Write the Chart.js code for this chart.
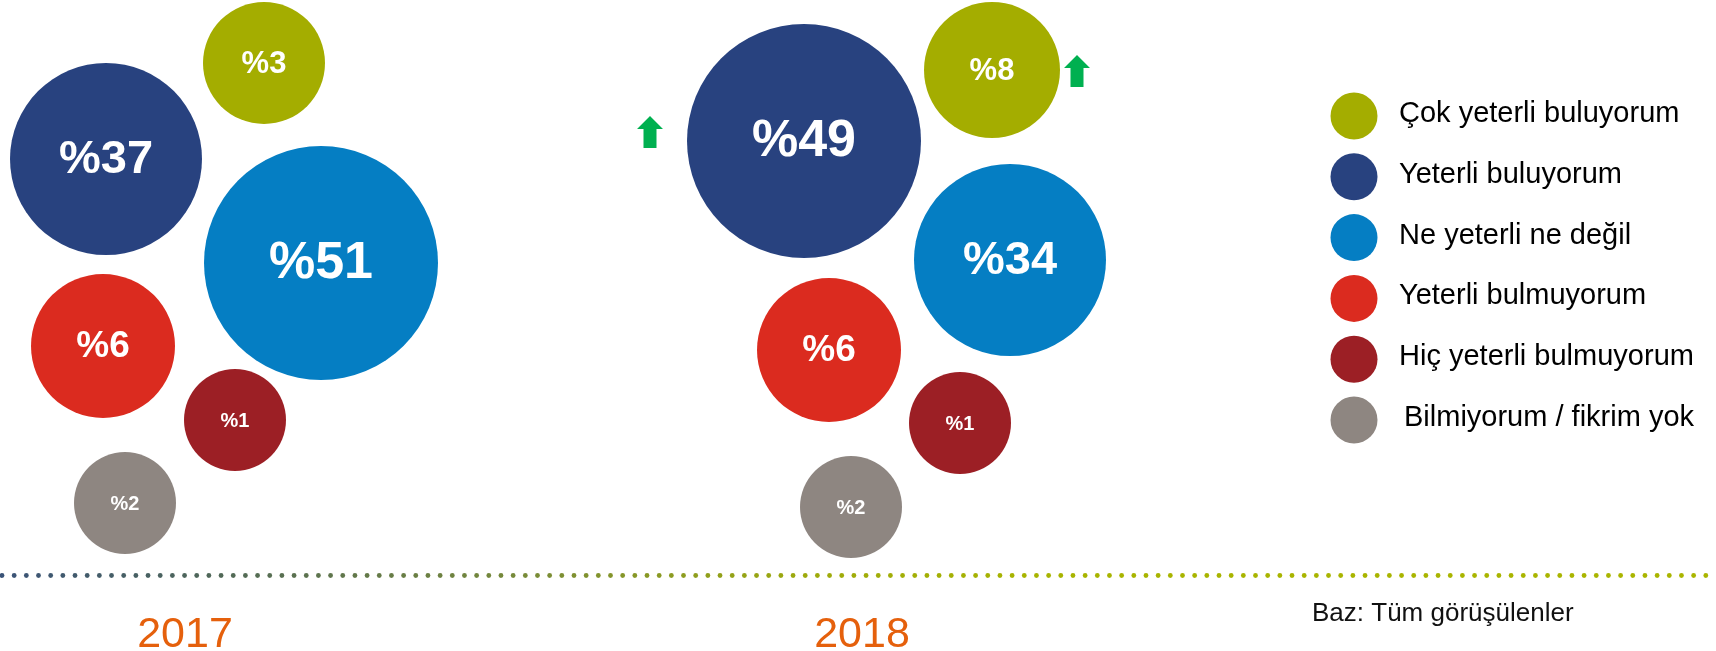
<!DOCTYPE html>
<html lang="tr">
<head>
  <meta charset="UTF-8">
  <title>Memnuniyet 2017 - 2018</title>
  <script src="https://cdn.jsdelivr.net/npm/chart.js"></script>
  <style>
    body { margin: 0; background: #fff; font-family: "Liberation Sans", Arial, sans-serif; }
    #wrap { position: relative; width: 1716px; height: 651px; overflow: hidden; }
  </style>
</head>
<body>
  <div id="wrap">
    <canvas id="bubbles" width="1716" height="651"></canvas>
  </div>

  <script>
    // data
    const categories = ['Çok yeterli buluyorum', 'Yeterli buluyorum', 'Ne yeterli ne değil',
      'Yeterli bulmuyorum', 'Hiç yeterli bulmuyorum', 'Bilmiyorum / fikrim yok'];
    const years = ['2017', '2018'];
    const values2017 = [3, 37, 51, 6, 1, 2];
    const values2018 = [8, 49, 34, 6, 1, 2];
    const risen2018 = [true, true, false, false, false, false]; // green up arrows
    const baseNote = 'Baz: Tüm görüşülenler';

    // layout of the packed bubbles (layout units, same size as the canvas)
    const posX2017 = [264, 106, 321, 103, 235, 125];
    const posY2017 = [63, 159, 263, 346, 420, 503];
    const size2017 = [61, 96, 117, 72, 51, 51];
    const posX2018 = [992, 804, 1010, 829, 960, 851];
    const posY2018 = [70, 141, 260, 350, 423, 507];
    const size2018 = [68, 117, 96, 72, 51, 51];
    const yearX = [185, 862];
    const arrowSide = ['right', 'left'];

    const colors = ['#a4ad00', '#28427f', '#057ec3', '#db2b1f', '#9c1f25', '#8e8681'];
    const FONT = '"Liberation Sans", Arial, sans-serif';

    function labelSize(r) {
      if (r >= 110) return 52;
      if (r >= 90) return 47;
      if (r >= 70) return 37;
      if (r >= 58) return 31;
      return 20;
    }

    const datasets = categories.map((cat, i) => ({
      label: cat,
      data: [
        { x: posX2017[i], y: posY2017[i], r: size2017[i], v: values2017[i] },
        { x: posX2018[i], y: posY2018[i], r: size2018[i], v: values2018[i] }
      ],
      backgroundColor: colors[i],
      borderWidth: 0,
      hoverBorderWidth: 0,
      clip: false
    }));

    // percent labels inside bubbles + arrows
    const bubbleLabels = {
      id: 'bubbleLabels',
      afterDatasetsDraw(chart) {
        const ctx = chart.ctx;
        ctx.save();
        ctx.fillStyle = '#fff';
        ctx.textAlign = 'center';
        ctx.textBaseline = 'middle';
        chart.data.datasets.forEach((ds, i) => {
          chart.getDatasetMeta(i).data.forEach((el, j) => {
            const p = ds.data[j];
            ctx.font = 'bold ' + labelSize(p.r) + 'px ' + FONT;
            ctx.fillText('%' + p.v, el.x, el.y + 1);
          });
        });

        // up arrows next to the 2018 bubbles that grew
        ctx.fillStyle = '#00b050';
        let k = 0;
        risen2018.forEach((up, i) => {
          if (!up) return;
          const el = chart.getDatasetMeta(i).data[1];
          const r = chart.data.datasets[i].data[1].r;
          const side = arrowSide[k++];
          const cx = side === 'left' ? el.x - r - 37 : el.x + r + 17;
          const cy = side === 'left' ? el.y - 9 : el.y + 1;
          const top = cy - 16;
          ctx.beginPath();
          ctx.moveTo(cx, top);
          ctx.lineTo(cx + 13, top + 13);
          ctx.lineTo(cx + 6.5, top + 13);
          ctx.lineTo(cx + 6.5, top + 32);
          ctx.lineTo(cx - 6.5, top + 32);
          ctx.lineTo(cx - 6.5, top + 13);
          ctx.lineTo(cx - 13, top + 13);
          ctx.closePath();
          ctx.fill();
        });
        ctx.restore();
      }
    };

    // dotted baseline, year labels, note and legend
    const decorations = {
      id: 'decorations',
      afterDraw(chart) {
        const ctx = chart.ctx;
        const xs = chart.scales.x;
        const W = chart.width;
        ctx.save();

        const grad = ctx.createLinearGradient(0, 0, W, 0);
        grad.addColorStop(0, '#3a5378');
        grad.addColorStop(0.12, '#4f6759');
        grad.addColorStop(0.3, '#778a3a');
        grad.addColorStop(0.47, '#9eaa0c');
        grad.addColorStop(0.6, '#a8b400');
        grad.addColorStop(1, '#aab500');
        ctx.fillStyle = grad;
        for (let x = 2; x < W; x += 12.17) {
          ctx.beginPath();
          ctx.arc(x, 575.5, 2.4, 0, Math.PI * 2);
          ctx.fill();
        }

        ctx.fillStyle = '#e5600c';
        ctx.font = '43px ' + FONT;
        ctx.textAlign = 'center';
        ctx.textBaseline = 'alphabetic';
        years.forEach((y, i) => ctx.fillText(y, xs.getPixelForValue(yearX[i]), 647));

        ctx.fillStyle = '#111';
        ctx.font = '26px ' + FONT;
        ctx.textAlign = 'left';
        ctx.fillText(baseNote, 1312, 621);

        // legend
        ctx.font = '29px ' + FONT;
        ctx.textBaseline = 'middle';
        categories.forEach((cat, i) => {
          const cy = 116 + i * 60.8;
          ctx.fillStyle = colors[i];
          ctx.beginPath();
          ctx.arc(1354, cy, 23.5, 0, Math.PI * 2);
          ctx.fill();
          ctx.fillStyle = '#000';
          ctx.fillText(cat, i === 5 ? 1404 : 1399, cy - 2);
        });
        ctx.restore();
      }
    };

    new Chart(document.getElementById('bubbles'), {
      type: 'bubble',
      data: { datasets },
      options: {
        responsive: false,
        animation: false,
        layout: { padding: 0, autoPadding: false },
        scales: {
          x: { type: 'linear', min: 0, max: 1716, display: false },
          y: { type: 'linear', min: 0, max: 651, reverse: true, display: false }
        },
        plugins: {
          legend: { display: false },
          tooltip: { enabled: false }
        },
        events: []
      },
      plugins: [bubbleLabels, decorations]
    });
  </script>
</body>
</html>
